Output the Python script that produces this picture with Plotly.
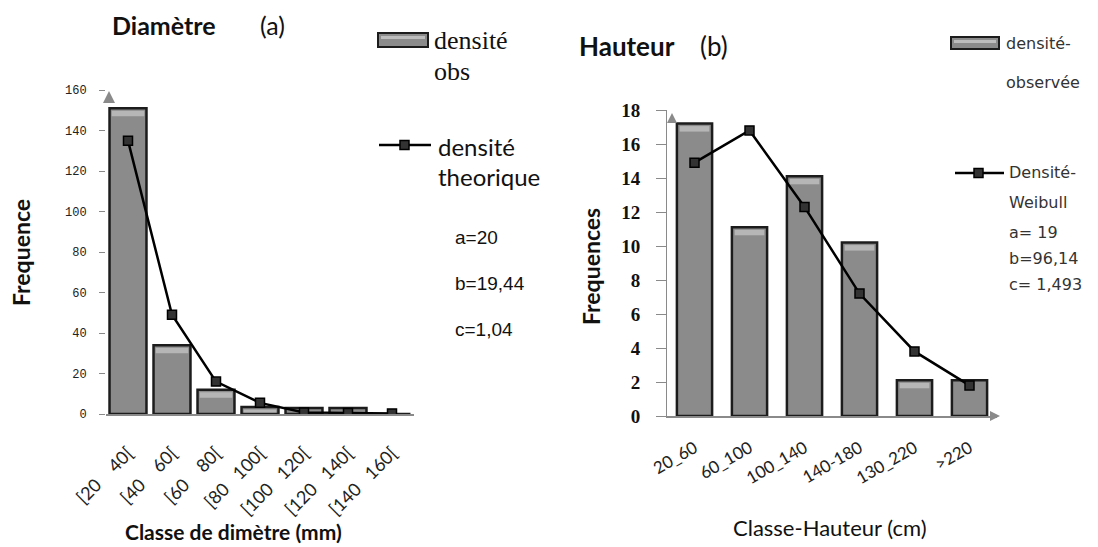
import plotly.graph_objects as go

W, H = 1098, 547
OFF = 8  # page body margin compensation

# ---------------- data ----------------
NB = "\u00a0"
diam_classes = ["[20" + NB * 4 + "40[", "[40" + NB * 4 + "60[", "[60" + NB * 4 + "80[",
                "[80" + NB * 3 + "100[", "[100" + NB * 3 + "120[", "[120" + NB * 3 + "140[",
                "[140" + NB * 3 + "160["]
diam_obs = [151, 34, 12, 3.5, 3, 3, 0]
diam_theo = [135, 49, 16, 5.5, 0.8, 0.5, 0.3]

haut_classes = ["20_60", "60_100", "100_140", "140-180", "130_220", ">220"]
haut_obs = [17.2, 11.1, 14.1, 10.2, 2.1, 2.1]
haut_theo = [14.9, 16.8, 12.3, 7.2, 3.8, 1.8]

left_params = ["a=20", "b=19,44", "c=1,04"]
right_params = ["Densité-", "Weibull", "a= 19", "b=96,14", "c= 1,493"]


def px(x):
    return (x - OFF) / W


def py(y):
    return 1 - (y - OFF) / H


BAR_FILL = "#8b8b8b"
BAR_LINE = "#1c1c1c"
LEFT_W = 0.84
RIGHT_W = 0.64

fig = go.Figure()

fig.add_trace(go.Bar(x=diam_classes, y=diam_obs, xaxis="x", yaxis="y", width=LEFT_W,
                     marker=dict(color=BAR_FILL, line=dict(color=BAR_LINE, width=2.5)),
                     showlegend=False))
fig.add_trace(go.Scatter(x=diam_classes, y=diam_theo, xaxis="x", yaxis="y", mode="lines+markers",
                         line=dict(color="black", width=2.5),
                         marker=dict(symbol="square", size=9, color="#333", line=dict(color="black", width=1.5)),
                         showlegend=False))
fig.add_trace(go.Bar(x=haut_classes, y=haut_obs, xaxis="x2", yaxis="y2", width=RIGHT_W,
                     marker=dict(color=BAR_FILL, line=dict(color=BAR_LINE, width=2.5)),
                     showlegend=False))
fig.add_trace(go.Scatter(x=haut_classes, y=haut_theo, xaxis="x2", yaxis="y2", mode="lines+markers",
                         line=dict(color="black", width=2.5),
                         marker=dict(symbol="square", size=9, color="#333", line=dict(color="black", width=1.5)),
                         showlegend=False))

axis_gray = "#8a8a8a"

fig.update_layout(
    width=W, height=H, autosize=False,
    margin=dict(l=0, r=0, t=0, b=0, pad=0),
    paper_bgcolor="white", plot_bgcolor="white",
    showlegend=False,
    xaxis=dict(domain=[px(106), px(414)], anchor="y", type="category", range=[-0.5, 6.5],
               automargin=False,
               showline=True, linecolor=axis_gray, linewidth=1.5, ticks="", showgrid=False,
               tickangle=-45, ticklabelstandoff=20,
               tickfont=dict(family="Lato", size=18, color="#222")),
    yaxis=dict(domain=[py(414), py(90)], anchor="x", range=[0, 160], dtick=20,
               automargin=False,
               showline=False, ticks="outside", ticklen=6, tickcolor=axis_gray, showgrid=False,
               zeroline=False, ticklabelstandoff=10,
               tickfont=dict(family="Liberation Mono", size=12, color="#222")),
    xaxis2=dict(domain=[px(667), px(997)], anchor="y2", type="category", range=[-0.5, 5.5],
                automargin=False,
                showline=True, linecolor=axis_gray, linewidth=1.5, ticks="", showgrid=False,
                tickangle=-30, ticklabelstandoff=14,
                tickfont=dict(family="Lato", size=17, color="#222")),
    yaxis2=dict(domain=[py(416), py(110)], anchor="x2", range=[0, 18], dtick=2,
                automargin=False,
                showline=True, linecolor=axis_gray, linewidth=1, ticks="outside", ticklen=10,
                tickcolor=axis_gray, showgrid=False, zeroline=False, ticklabelstandoff=12,
                tickfont=dict(family="Liberation Serif", size=19, color="#111", weight="bold")),
)

ann = []
shapes = []


# bevel highlight near the top of every bar (decoration derived from the data);
# skipped where the theoretical-density marker would be hidden by it
def bevel(values, theo, width, xref, yref, units_per_px):
    for i, v in enumerate(values):
        top = v - 2.5 * units_per_px
        bot = max(v - 8 * units_per_px, 1.5 * units_per_px)
        if top <= bot:
            continue
        if bot - 6 * units_per_px <= theo[i] <= top + 6 * units_per_px:
            continue
        shapes.append(dict(type="rect", xref=xref, yref=yref, layer="above",
                           x0=i - width / 2 + 0.05, x1=i + width / 2 - 0.05, y0=bot, y1=top,
                           fillcolor="#bdbdbd", opacity=0.85, line=dict(width=0)))


bevel(diam_obs, diam_theo, LEFT_W, "x", "y", 160 / 324)
bevel(haut_obs, haut_theo, RIGHT_W, "x2", "y2", 18 / 306)

# titles
ann.append(dict(x=px(110), y=py(25), text="<b>Diamètre</b>", xanchor="left", yanchor="middle",
                font=dict(family="Lato", size=25, color="#111")))
ann.append(dict(x=px(258), y=py(25), text="(a)", xanchor="left", yanchor="middle",
                font=dict(family="Lato", size=25, color="#111")))
ann.append(dict(x=px(577), y=py(46), text="<b>Hauteur</b>", xanchor="left", yanchor="middle",
                font=dict(family="Lato", size=26, color="#111")))
ann.append(dict(x=px(698), y=py(46), text="(b)", xanchor="left", yanchor="middle",
                font=dict(family="Lato", size=26, color="#111")))

# axis titles
ann.append(dict(x=px(233), y=py(531), text="<b>Classe de dimètre (mm)</b>", xanchor="center", yanchor="middle",
                font=dict(family="Lato", size=21, color="#111")))
ann.append(dict(x=px(830), y=py(527), text="Classe-Hauteur (cm)", xanchor="center", yanchor="middle",
                font=dict(family="Lato", size=22, color="#111")))
ann.append(dict(x=px(21), y=py(253), text="<b>Frequence</b>", textangle=-90, xanchor="center", yanchor="middle",
                font=dict(family="Lato", size=23, color="#111")))
ann.append(dict(x=px(591), y=py(267), text="<b>Frequences</b>", textangle=-90, xanchor="center", yanchor="middle",
                font=dict(family="Lato", size=23, color="#111")))

# left legend
shapes.append(dict(type="rect", xref="paper", yref="paper", x0=px(378), x1=px(428), y0=py(47), y1=py(33),
                   fillcolor=BAR_FILL, line=dict(color=BAR_LINE, width=2)))
shapes.append(dict(type="rect", xref="paper", yref="paper", x0=px(381), x1=px(425), y0=py(39), y1=py(36),
                   fillcolor="#bdbdbd", line=dict(width=0)))
ann.append(dict(x=px(432), y=py(40), text="densité", xanchor="left", yanchor="middle",
                font=dict(family="Liberation Serif", size=26, color="#111")))
ann.append(dict(x=px(432), y=py(71), text="obs", xanchor="left", yanchor="middle",
                font=dict(family="Liberation Serif", size=26, color="#111")))
shapes.append(dict(type="line", xref="paper", yref="paper", x0=px(379), x1=px(431), y0=py(145), y1=py(145),
                   line=dict(color="black", width=2.5)))
shapes.append(dict(type="rect", xref="paper", yref="paper", x0=px(400), x1=px(409), y0=py(149.5), y1=py(140.5),
                   fillcolor="#333", line=dict(color="black", width=1.5)))
ann.append(dict(x=px(436), y=py(146), text="densité", xanchor="left", yanchor="middle",
                font=dict(family="Lato", size=24, color="#111")))
ann.append(dict(x=px(436), y=py(177), text="theorique", xanchor="left", yanchor="middle",
                font=dict(family="Lato", size=24, color="#111")))
for i, t in enumerate(left_params):
    ann.append(dict(x=px(453), y=py(237 + 46 * i), text=t, xanchor="left", yanchor="middle",
                    font=dict(family="Liberation Sans", size=19, color="#111")))

# right legend
shapes.append(dict(type="rect", xref="paper", yref="paper", x0=px(951), x1=px(999), y0=py(49), y1=py(37),
                   fillcolor=BAR_FILL, line=dict(color=BAR_LINE, width=2)))
shapes.append(dict(type="rect", xref="paper", yref="paper", x0=px(954), x1=px(996), y0=py(43), y1=py(40),
                   fillcolor="#bdbdbd", line=dict(width=0)))
ann.append(dict(x=px(1004), y=py(43), text="densité-", xanchor="left", yanchor="middle",
                font=dict(family="DejaVu Sans", size=16, color="#333")))
ann.append(dict(x=px(1004), y=py(82), text="observée", xanchor="left", yanchor="middle",
                font=dict(family="DejaVu Sans", size=16, color="#333")))
shapes.append(dict(type="line", xref="paper", yref="paper", x0=px(955), x1=px(1004), y0=py(173), y1=py(173),
                   line=dict(color="black", width=2.5)))
shapes.append(dict(type="rect", xref="paper", yref="paper", x0=px(974), x1=px(983), y0=py(177.5), y1=py(168.5),
                   fillcolor="#333", line=dict(color="black", width=1.5)))
ys = [173, 202, 233, 258, 285]
for t, yy in zip(right_params, ys):
    ann.append(dict(x=px(1007), y=py(yy), text=t, xanchor="left", yanchor="middle",
                    font=dict(family="DejaVu Sans", size=16, color="#333")))


# axis arrows (decorative)
def tri_up(cx, top, h=12, w=12):
    return dict(type="path", xref="paper", yref="paper",
                path=f"M {px(cx - w/2)} {py(top + h)} L {px(cx)} {py(top)} L {px(cx + w/2)} {py(top + h)} Z",
                fillcolor=axis_gray, line=dict(width=0))


shapes.append(tri_up(109, 91))
shapes.append(tri_up(672, 113, h=10, w=10))
shapes.append(dict(type="path", xref="paper", yref="paper",
                   path=f"M {px(990)} {py(411)} L {px(1000)} {py(416)} L {px(990)} {py(421)} Z",
                   fillcolor=axis_gray, line=dict(width=0)))

for a in ann:
    a.setdefault("xref", "paper")
    a.setdefault("yref", "paper")
    a.setdefault("showarrow", False)

fig.update_layout(annotations=ann, shapes=shapes)

fig.write_html("out.html")
